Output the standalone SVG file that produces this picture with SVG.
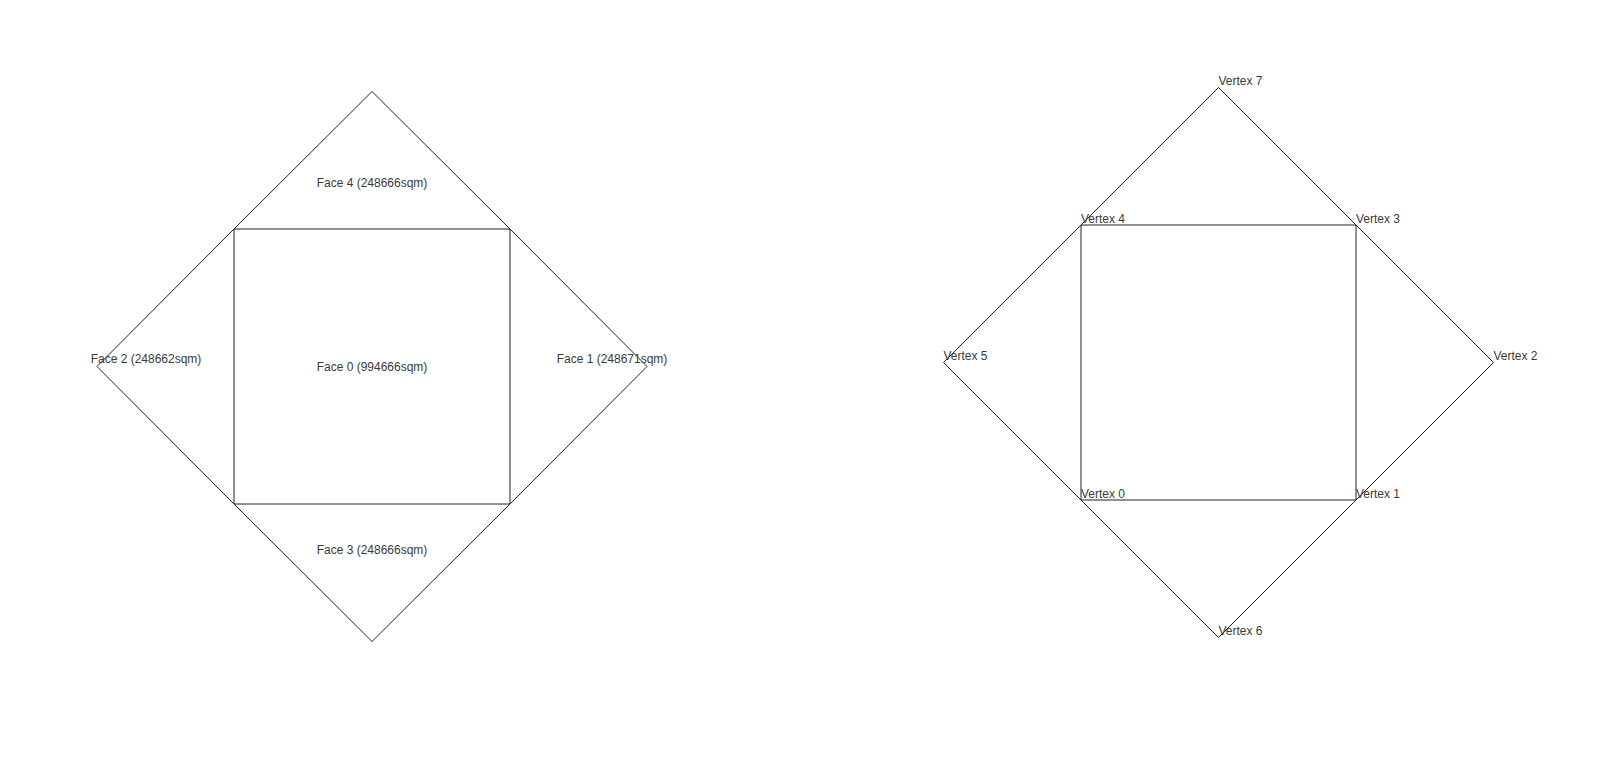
<svg xmlns="http://www.w3.org/2000/svg" width="1620" height="762" viewBox="0 0 1620 762">
  <style>
    .face { fill: none; stroke: #222; stroke-width: 1; }
    .edge { fill: none; stroke: #222; stroke-width: 1; }
    .lbl { font-family: "Liberation Sans", Arial, sans-serif; font-size: 12px; fill: #3a3a3a; }
    .mid { text-anchor: middle; }
  </style>
  <rect x="0" y="0" width="1620" height="762" fill="#ffffff"/>

  <!-- Left figure: faces -->
  <g id="face0">
    <polygon class="face" points="234,229 510,229 510,504 234,504"/>
    <text class="lbl mid" x="372" y="371">Face 0 (994666sqm)</text>
  </g>
  <g id="face1">
    <polyline class="face" points="510,229 647,366.5 510,504"/>
    <text class="lbl mid" x="612" y="363">Face 1 (248671sqm)</text>
  </g>
  <g id="face2">
    <polyline class="face" points="234,229 97,366.5 234,504"/>
    <text class="lbl mid" x="146" y="363">Face 2 (248662sqm)</text>
  </g>
  <g id="face3">
    <polyline class="face" points="234,504 372,641.5 510,504"/>
    <text class="lbl mid" x="372" y="554">Face 3 (248666sqm)</text>
  </g>
  <g id="face4">
    <polyline class="face" points="234,229 372,91.5 510,229"/>
    <text class="lbl mid" x="372" y="187">Face 4 (248666sqm)</text>
  </g>

  <!-- Right figure: edges -->
  <g id="edges">
    <line class="edge" x1="1081" y1="500" x2="1356" y2="500"/>
    <line class="edge" x1="1356" y1="500" x2="1356" y2="225"/>
    <line class="edge" x1="1356" y1="225" x2="1081" y2="225"/>
    <line class="edge" x1="1081" y1="225" x2="1081" y2="500"/>
    <line class="edge" x1="1356" y1="225" x2="1493.5" y2="362.5"/>
    <line class="edge" x1="1493.5" y1="362.5" x2="1356" y2="500"/>
    <line class="edge" x1="1081" y1="225" x2="943.5" y2="362.5"/>
    <line class="edge" x1="943.5" y1="362.5" x2="1081" y2="500"/>
    <line class="edge" x1="1081" y1="500" x2="1218.5" y2="637.5"/>
    <line class="edge" x1="1218.5" y1="637.5" x2="1356" y2="500"/>
    <line class="edge" x1="1081" y1="225" x2="1218.5" y2="87.5"/>
    <line class="edge" x1="1218.5" y1="87.5" x2="1356" y2="225"/>
  </g>

  <!-- Right figure: vertices -->
  <g id="vertex0"><text class="lbl" x="1081" y="497.5">Vertex 0</text></g>
  <g id="vertex1"><text class="lbl" x="1356" y="497.5">Vertex 1</text></g>
  <g id="vertex2"><text class="lbl" x="1493.5" y="360">Vertex 2</text></g>
  <g id="vertex3"><text class="lbl" x="1356" y="222.5">Vertex 3</text></g>
  <g id="vertex4"><text class="lbl" x="1081" y="222.5">Vertex 4</text></g>
  <g id="vertex5"><text class="lbl" x="943.5" y="360">Vertex 5</text></g>
  <g id="vertex6"><text class="lbl" x="1218.5" y="635">Vertex 6</text></g>
  <g id="vertex7"><text class="lbl" x="1218.5" y="85">Vertex 7</text></g>
</svg>
